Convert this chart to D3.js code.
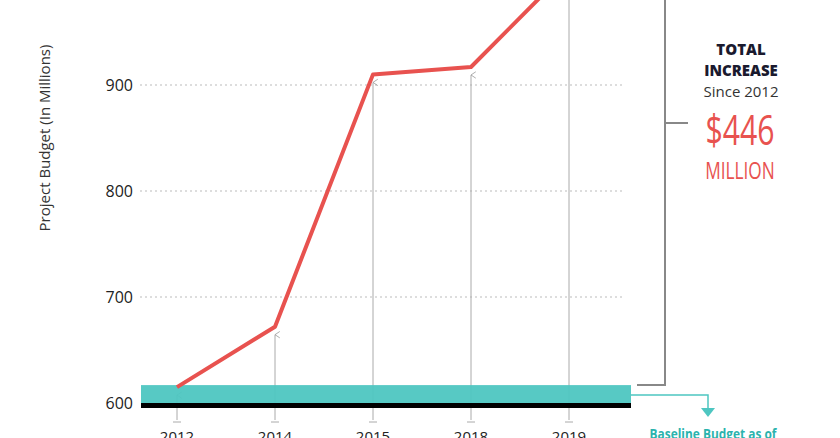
<!DOCTYPE html>
<html>
<head>
<meta charset="utf-8">
<script src="https://cdn.jsdelivr.net/npm/d3@7"></script>
<style>
  body { margin: 0; background: #fff; }
  text { font-family: "Open Sans", sans-serif; }
</style>
</head>
<body>
<div id="chart"></div>
<script>
// Chart data
var years = ["2012", "2014", "2015", "2018", "2019"];
var budget = [615, 672, 910, 917, 1010];
var yTicks = [600, 700, 800, 900];
var baseline = 615;

var svgWidth = 840;
var svgHeight = 438;

var svg = d3.select("#chart")
    .append("svg")
    .attr("width", svgWidth)
    .attr("height", svgHeight);

var xScale = d3.scalePoint().domain(years).range([177, 569]);
var yScale = d3.scaleLinear().domain([600, 900]).range([403, 85]);

svg.append("defs").append("marker")
    .attr("id", "arr")
    .attr("viewBox", "0 0 10 10")
    .attr("refX", 5).attr("refY", 1)
    .attr("markerWidth", 8).attr("markerHeight", 8)
    .attr("orient", "auto-start-reverse")
    .append("path")
    .attr("d", "M1,7 L5,1 L9,7")
    .attr("fill", "none")
    .attr("stroke", "#999")
    .attr("stroke-width", 1);

// Dotted gridlines
svg.selectAll(".grid")
    .data(yTicks.slice(1))
    .enter().append("line")
    .attr("x1", 140).attr("x2", 622)
    .attr("y1", d => yScale(d)).attr("y2", d => yScale(d))
    .attr("stroke", "#bbb")
    .attr("stroke-dasharray", "2,3");

// Y axis tick labels
svg.selectAll(".ytick")
    .data(yTicks)
    .enter().append("text")
    .attr("x", 133)
    .attr("y", d => yScale(d) + 6)
    .attr("text-anchor", "end")
    .attr("font-size", 16)
    .attr("fill", "#222")
    .text(d => d);

svg.append("text")
    .attr("transform", "translate(50,138) rotate(-90)")
    .attr("text-anchor", "middle")
    .attr("font-size", 15)
    .attr("fill", "#333")
    .text("Project Budget  (In Millions)");

// Vertical arrows from axis to each point
svg.selectAll(".arrow")
    .data(years)
    .enter().append("line")
    .attr("x1", d => xScale(d)).attr("x2", d => xScale(d))
    .attr("y1", 420)
    .attr("y2", (d, i) => Math.max(0, yScale(budget[i]) + 8))
    .attr("stroke", "#aaa")
    .attr("stroke-width", 1)
    .attr("marker-end", (d, i) => yScale(budget[i]) > 0 ? "url(#arr)" : null);

// Baseline teal band and black axis
svg.append("rect")
    .attr("x", 141).attr("y", yScale(baseline) - 2)
    .attr("width", 490).attr("height", yScale(600) - yScale(baseline) + 2)
    .attr("fill", "#4ec6c1")
    .attr("opacity", 0.95);

svg.append("rect")
    .attr("x", 141).attr("y", yScale(600))
    .attr("width", 490).attr("height", 5)
    .attr("fill", "#000");

// Tick marks below axis
svg.selectAll(".xtick")
    .data(years)
    .enter().append("line")
    .attr("x1", d => xScale(d) - 4).attr("x2", d => xScale(d) + 4)
    .attr("y1", 422).attr("y2", 422)
    .attr("stroke", "#aaa");

svg.selectAll(".xlabel")
    .data(years)
    .enter().append("text")
    .attr("x", d => xScale(d))
    .attr("y", 442)
    .attr("text-anchor", "middle")
    .attr("font-size", 15)
    .attr("fill", "#222")
    .text(d => d);

// Budget line
var line = d3.line()
    .x(d => xScale(d.year))
    .y(d => yScale(d.value));

svg.append("path")
    .datum(years.map((y, i) => ({ year: y, value: budget[i] })))
    .attr("d", line)
    .attr("fill", "none")
    .attr("stroke", "#e8524f")
    .attr("stroke-width", 4)
    .attr("stroke-linejoin", "round");

// Bracket for total increase
svg.append("path")
    .attr("d", "M665,0 L665,385 L637,385 M665,123 L688,123")
    .attr("fill", "none")
    .attr("stroke", "#888")
    .attr("stroke-width", 2);

var ann = svg.append("g").attr("text-anchor", "middle");
ann.append("text").attr("x", 741).attr("y", 55)
    .attr("font-size", 15).attr("font-weight", 800).attr("fill", "#1a1a2e")
    .text("TOTAL");
ann.append("text").attr("x", 741).attr("y", 76)
    .attr("font-size", 15).attr("font-weight", 800).attr("fill", "#1a1a2e")
    .text("INCREASE");
ann.append("text").attr("x", 741).attr("y", 97)
    .attr("font-size", 15).attr("fill", "#333")
    .text("Since 2012");
ann.append("text")
    .attr("transform", "translate(740,145) scale(0.72,1)")
    .attr("font-size", 42).attr("fill", "#e8524f")
    .text("$446");
ann.append("text")
    .attr("transform", "translate(740,179) scale(0.75,1)")
    .attr("font-size", 23).attr("fill", "#e8524f")
    .text("MILLION");

// Baseline callout
svg.append("path")
    .attr("d", "M631,395 L708,395 L708,410")
    .attr("fill", "none")
    .attr("stroke", "#4ec6c1")
    .attr("stroke-width", 1.5);
svg.append("path")
    .attr("d", "M701,408 L715,408 L708,417 Z")
    .attr("fill", "#4ec6c1");
svg.append("text")
    .attr("transform", "translate(713,439) scale(0.85,1)")
    .attr("text-anchor", "middle")
    .attr("font-size", 14).attr("font-weight", "bold")
    .attr("fill", "#2bb3ad")
    .text("Baseline Budget as of");
</script>
</body>
</html>
